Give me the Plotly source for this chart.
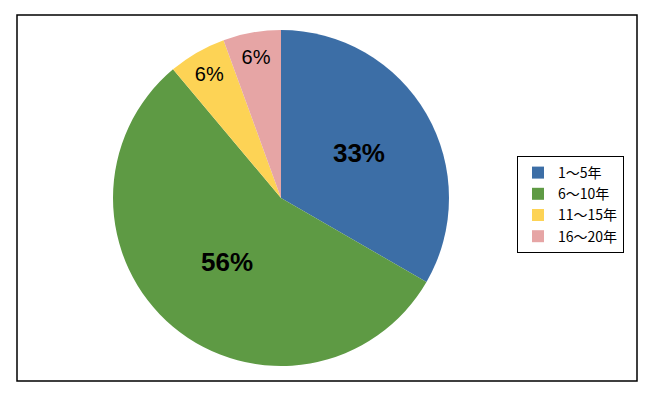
import plotly.graph_objects as go

categories = ["1～5年", "6～10年", "11～15年", "16～20年"]
counts = [18, 30, 3, 3]
pct_labels = ["33%", "56%", "6%", "6%"]
colors = ["#3C6EA6", "#5E9A44", "#FDD355", "#E6A5A5"]

W, H = 646, 400

texts = [f"<b>{p}</b>" if i < 2 else p for i, p in enumerate(pct_labels)]
sizes = [26, 26, 20, 20]

fig = go.Figure(go.Pie(
    labels=categories,
    values=counts,
    text=texts,
    textinfo="text",
    textposition="inside",
    insidetextorientation="horizontal",
    textfont=dict(size=sizes, color="black", family="Liberation Sans, Arial"),
    marker=dict(colors=colors, line=dict(width=0)),
    sort=False,
    direction="clockwise",
    rotation=0,
    domain=dict(x=[113 / W, 449 / W], y=[1 - 366 / H, 1 - 30 / H]),
    hoverinfo="label+percent",
))

fig.update_layout(
    width=W, height=H,
    margin=dict(l=0, r=0, t=0, b=0),
    paper_bgcolor="white",
    plot_bgcolor="white",
    showlegend=True,
    legend=dict(
        x=517 / W, y=1 - 156 / H, xanchor="left", yanchor="top",
        bordercolor="black", borderwidth=1, bgcolor="white",
        font=dict(size=14, family="Noto Sans CJK JP", color="black"),
        tracegroupgap=0, itemwidth=30,
    ),
    shapes=[dict(
        type="rect", xref="paper", yref="paper",
        x0=17 / W, x1=637 / W, y0=1 - 381 / H, y1=1 - 15 / H,
        line=dict(color="black", width=1.5), fillcolor="rgba(0,0,0,0)",
        layer="below",
    )],
)

fig.write_html(
    "out.html",
    config={"displayModeBar": False},
    post_script="document.body.style.margin='0';document.body.style.overflow='hidden';",
)
